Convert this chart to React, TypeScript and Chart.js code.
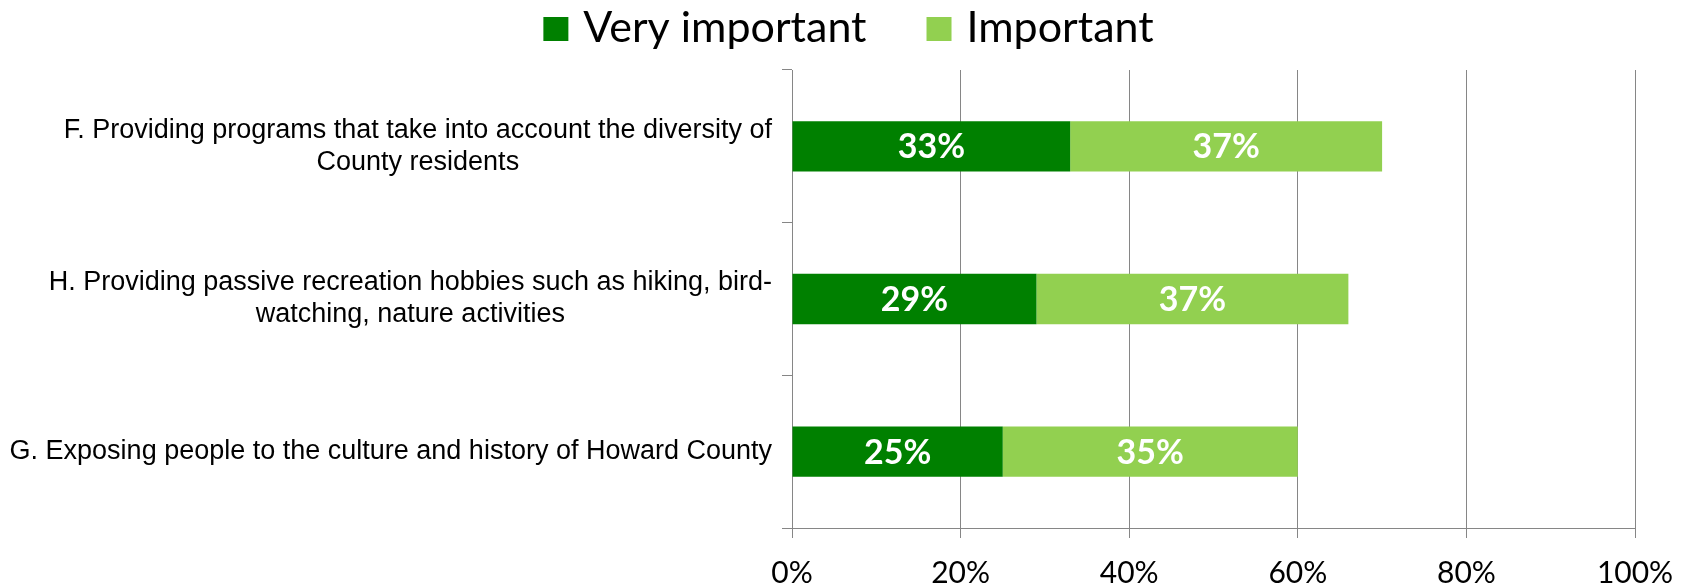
import React, { useEffect, useRef } from "react";
import { Chart, registerables } from "chart.js";

Chart.register(...registerables);

const categories: string[][] = [
  ["F. Providing programs that take into account the diversity of", "County residents"],
  ["H. Providing passive recreation hobbies such as hiking, bird-", "watching, nature activities"],
  ["G. Exposing people to the culture and history of Howard County"],
];
const seriesNames = ["Very important", "Important"];
const veryImportant = [33, 29, 25];
const important = [37, 37, 35];
const seriesColors = ["#008000", "#92d050"];
const xMin = 0;
const xMax = 100;
const xStep = 20;

const W = 1697;
const H = 587;

const categoryLabels = {
  id: "categoryLabels",
  afterDraw(chart: any) {
    const ctx = chart.ctx;
    const y = chart.scales.y;
    ctx.save();
    ctx.font = '27px "Liberation Sans", Arial, sans-serif';
    ctx.fillStyle = "#000";
    ctx.textAlign = "center";
    ctx.textBaseline = "middle";
    const right = y.right - 20;
    (chart.data.labels as any[]).forEach((lab, i) => {
      const lines: string[] = Array.isArray(lab) ? lab : [lab];
      const w = Math.max(...lines.map((l) => ctx.measureText(l).width));
      const cx = right - w / 2;
      const cy = y.getPixelForValue(i);
      lines.forEach((l, j) => ctx.fillText(l, cx, cy + (j - (lines.length - 1) / 2) * 32));
    });
    ctx.restore();
  },
};

const topLegend = {
  id: "topLegend",
  afterDraw(chart: any) {
    const ctx = chart.ctx;
    ctx.save();
    ctx.font = "43px Lato, sans-serif";
    const box = 25;
    const gap = 15;
    const itemGap = 60;
    const items = chart.data.datasets.map((ds: any) => ({
      text: ds.label,
      color: ds.backgroundColor,
      w: box + gap + ctx.measureText(ds.label).width,
    }));
    const total = items.reduce((a: number, it: any) => a + it.w, 0) + itemGap * (items.length - 1);
    let x = (chart.width - total) / 2;
    const baseline = 42;
    items.forEach((it: any) => {
      ctx.fillStyle = it.color;
      ctx.fillRect(x, baseline - 25, box, 24);
      ctx.fillStyle = "#000";
      ctx.textAlign = "left";
      ctx.textBaseline = "alphabetic";
      ctx.fillText(it.text, x + box + gap, baseline);
      x += it.w + itemGap;
    });
    ctx.restore();
  },
};

const barValueLabels = {
  id: "barValueLabels",
  afterDatasetsDraw(chart: any) {
    const ctx = chart.ctx;
    ctx.save();
    ctx.font = "bold 34px Lato, sans-serif";
    ctx.fillStyle = "#ffffff";
    ctx.textAlign = "center";
    ctx.textBaseline = "middle";
    chart.data.datasets.forEach((ds: any, di: number) => {
      const meta = chart.getDatasetMeta(di);
      meta.data.forEach((bar: any, i: number) => {
        const v = ds.data[i];
        const cx = (bar.x + bar.base) / 2;
        ctx.fillText(`${v}%`, cx, bar.y + 1);
      });
    });
    ctx.restore();
  },
};

export default function App() {
  const ref = useRef<HTMLCanvasElement | null>(null);

  useEffect(() => {
    let chart: Chart | null = null;
    let cancelled = false;
    const ready = Promise.all([
      document.fonts.load("30px Lato"),
      document.fonts.load("bold 34px Lato"),
      document.fonts.load('27px "Liberation Sans"'),
    ]).catch(() => null);
    ready.then(() => {
      if (cancelled || !ref.current) return;
      chart = new Chart(ref.current, {
        type: "bar",
        data: {
          labels: categories as any,
          datasets: [
            {
              label: seriesNames[0],
              data: veryImportant,
              backgroundColor: seriesColors[0],
              borderWidth: 0,
              categoryPercentage: 1,
              barPercentage: 0.33,
            },
            {
              label: seriesNames[1],
              data: important,
              backgroundColor: seriesColors[1],
              borderWidth: 0,
              categoryPercentage: 1,
              barPercentage: 0.33,
            },
          ],
        },
        options: {
          indexAxis: "y",
          animation: false,
          responsive: false,
          devicePixelRatio: 1,
          layout: { padding: { top: 70, right: 62, bottom: 0, left: 0 } },
          plugins: {
            legend: { display: false },
            tooltip: { enabled: false },
          },
          scales: {
            x: {
              stacked: true,
              min: xMin,
              max: xMax,
              ticks: {
                stepSize: xStep,
                callback: (v: any) => `${v}%`,
                font: { family: "Lato", size: 30 },
                color: "#000",
                padding: 17,
              },
              grid: { color: "#868686", lineWidth: 1, tickLength: 10 },
              border: { color: "#868686", width: 1 },
              afterFit: (s: any) => {
                s.height = 59;
              },
            },
            y: {
              stacked: true,
              ticks: { display: false },
              grid: { drawOnChartArea: false, offset: true, tickLength: 10, color: "#868686" },
              border: { color: "#868686", width: 1 },
              afterFit: (s: any) => {
                s.width = 792;
              },
            },
          },
        },
        plugins: [categoryLabels, topLegend, barValueLabels],
      } as any);
    });
    return () => {
      cancelled = true;
      if (chart) chart.destroy();
    };
  }, []);

  return (
    <div style={{ position: "absolute", left: 0, top: 0, width: W, height: H, background: "#fff" }}>
      <canvas ref={ref} width={W} height={H} style={{ width: W, height: H, display: "block" }} />
    </div>
  );
}
